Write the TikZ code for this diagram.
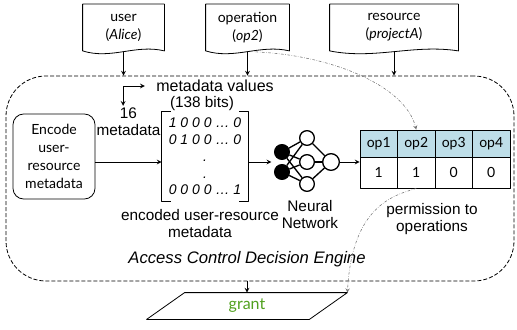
\documentclass[tikz,border=0pt]{standalone}
\usepackage{fontspec}
\setmainfont{Liberation Sans}
\newfontfamily\gillfont{Lato}
\usetikzlibrary{calc}
\definecolor{hdrblue}{RGB}{190,222,232}
\definecolor{grantgreen}{RGB}{80,160,30}
\definecolor{linkgray}{RGB}{110,110,110}
\begin{document}
\begin{tikzpicture}[x=0.75pt,y=0.75pt,>=stealth,line join=round,semithick,
	font=\fontsize{11.5}{12.75}\selectfont,
	doc/.style={minimum width=#1,minimum height=34.5pt,inner sep=0pt,align=center,font=\gillfont\fontsize{10.5}{13.5}\selectfont},
	encbox/.style={draw,rounded corners=8pt,minimum width=61.5pt,minimum height=63.75pt,inner sep=0pt,align=center,font=\gillfont\fontsize{10.5}{13.5}\selectfont},
	neuron/.style={draw,circle,line width=1pt,minimum size=11pt,inner sep=0pt,fill=white},
	hcell/.style={draw,fill=hdrblue,minimum width=28.125pt,minimum height=20.25pt,inner sep=0pt,font=\gillfont\fontsize{10.5}{12}\selectfont},
	vcell/.style={draw,minimum width=28.125pt,minimum height=23.25pt,inner sep=0pt,font=\gillfont\fontsize{10.5}{12}\selectfont},
	link/.style={draw=linkgray,thin,dash pattern=on 2pt off 1.2pt on 0.4pt off 1.2pt}]
	\useasboundingbox (0,0) rectangle (517,329);
	% inputs
	\node[doc=60.75pt] (user) at (123.5,301.5) {user\\(\textit{Alice})};
	\node[doc=62.25pt] (operation) at (247.5,301.5) {operation\\(\textit{op2})};
	\node[doc=96pt] (resource) at (394,301.5) {resource\\(\textit{projectA})};
	% engine
	\node[draw,dash pattern=on 3pt off 1.5pt,rounded corners=30pt,minimum width=381pt,minimum height=153.75pt] (engine) at (260,150.5) {};
	\node[font=\itshape\fontsize{12.5}{14}\selectfont] (title) at (247,70) {Access Control Decision Engine};
	\foreach \n in {user,operation,resource}{
		\draw (\n.south west) -- (\n.north west) -- (\n.north east) -- (\n.south east)
			.. controls ($(\n.south east)!0.35!(\n.south west)+(0,7)$) and ($(\n.south west)!0.35!(\n.south east)+(0,-9)$) .. cycle;
		\draw[->] ($(\n.south)+(0,-1)$) -- (\n.south |- engine.north);
	}
	% encoding
	\node[encbox] (encode) at (54,172.5) {Encode\\user-\\resource\\metadata};
	\node[minimum width=64.5pt,minimum height=66.75pt,inner sep=0pt,align=center,font=\itshape\fontsize{10.5}{12.56}\selectfont] (enc) at (205,172.5) {1 0 0 0 … 0\\0 1 0 0 … 0\\.\\.\\0 0 0 0 … 1};
	\draw ([xshift=7pt]enc.north west) -- (enc.north west) -- (enc.south west) -- ([xshift=7pt]enc.south west);
	\draw ([xshift=-7pt]enc.north east) -- (enc.north east) -- (enc.south east) -- ([xshift=-7pt]enc.south east);
	\node (bits) at (202,225) {(138 bits)};
	\node[font=\fontsize{12}{13}\selectfont] (metaval) at (215,243) {metadata values};
	\node[align=center,inner sep=1pt] (nummeta) at (128.5,207.5) {16\\metadata};
	\node[align=center] (enclabel) at (200,105.5) {encoded user-resource\\metadata};
	\draw[<->,shorten >=5pt] ([xshift=-4pt]nummeta.north) |- (metaval.west);
	% network
	\node[neuron,fill=black] (i1) at (282,177) {};
	\node[neuron,fill=black] (i2) at (282,157) {};
	\node[neuron] (h1) at (307,191) {};
	\node[neuron] (h2) at (307,167) {};
	\node[neuron] (h3) at (307,145) {};
	\node[neuron,minimum size=12.5pt] (out) at (331,167) {};
	\foreach \a in {i1,i2}
		\foreach \b in {h1,h2,h3}
			\draw[line width=1pt] (\a) -- (\b);
	\foreach \b in {h1,h2,h3}
		\draw[line width=1pt] (\b) -- (out);
	\node[align=center] (nnlabel) at (310,114.5) {Neural\\Network};
	\draw[->] (encode.east |- out) -- (enc.west |- out);
	\draw[->,shorten >=2pt] (enc.east |- out) -- ($(i1.west)!0.5!(i2.west)$);
	% permissions
	\foreach \i/\v in {1/1,2/1,3/0,4/0}{
		\node[hcell] (op\i) at (341.25+37.5*\i,185.5) {op\i};
		\node[vcell] (val\i) at (341.25+37.5*\i,156.5) {\v};
	}
	\draw[->] (out) -- (out -| op1.west);
	\node[align=center] (permlabel) at (432,109.5) {permission to\\operations};
	% decision
	\node[minimum width=121.5pt,minimum height=19.5pt,inner sep=0pt,text=grantgreen,font=\gillfont\fontsize{12}{14}\selectfont] (grant) at (247,23) {grant};
	\draw ([xshift=14.25pt]grant.north west) -- ([xshift=14.25pt]grant.north east) -- ([xshift=-14.25pt]grant.south east) -- ([xshift=-14.25pt]grant.south west) -- cycle;
	\coordinate (grantne) at ([xshift=14.25pt]grant.north east);
	\draw[->] (grant.north |- engine.south) -- (grant.north);
	\draw[link,->] ($(operation.south)+(8,-1)$) .. controls (330,274) and (405,244) .. (op2.north);
	\draw[link,->] (val2.south) .. controls (395,134) and (352,124) .. (grantne);
\end{tikzpicture}
\end{document}
